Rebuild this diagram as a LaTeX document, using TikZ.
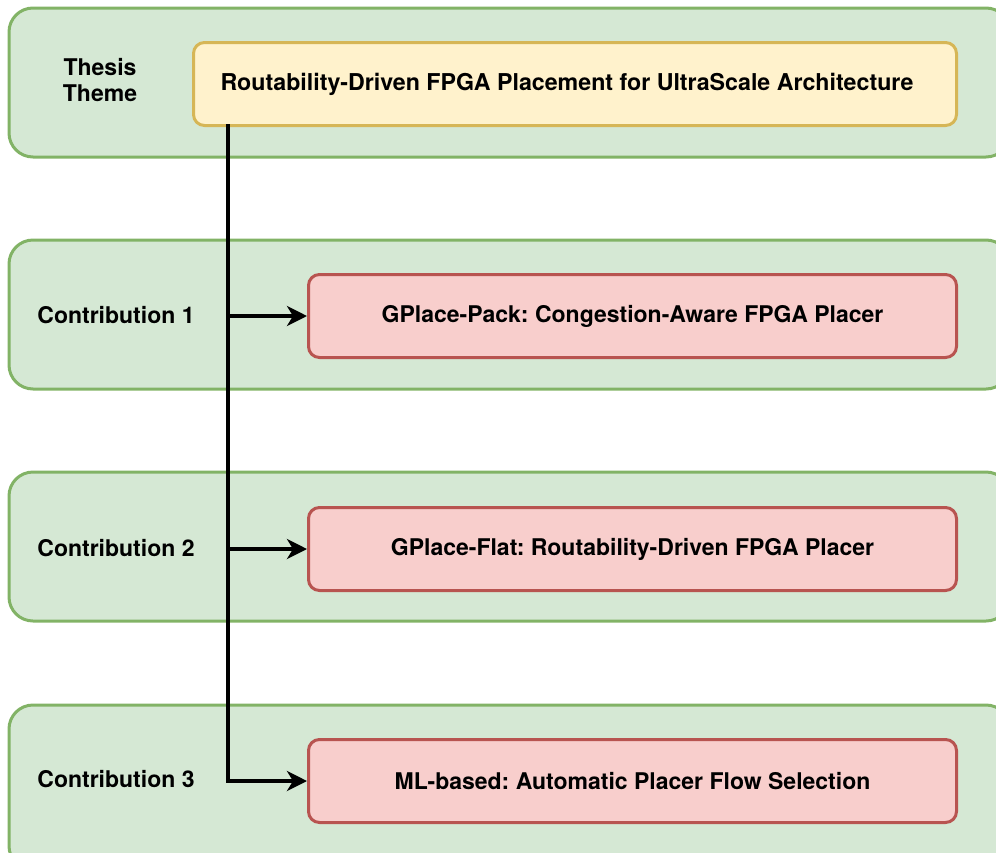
\documentclass[tikz,border=0pt]{standalone}
\usepackage{fontspec}
\setmainfont{TeX Gyre Heros}
\frenchspacing
\usetikzlibrary{arrows.meta}
\definecolor{gfill}{HTML}{D5E8D4}
\definecolor{gline}{HTML}{82B366}
\definecolor{yfill}{HTML}{FFF2CC}
\definecolor{yline}{HTML}{D6B656}
\definecolor{rfill}{HTML}{F8CECC}
\definecolor{rline}{HTML}{B85450}
\tikzset{
  lane/.style={draw=gline,fill=gfill,line width=3pt,rounded corners=24pt},
  theme/.style={draw=yline,fill=yfill,line width=3pt,rounded corners=11pt,font=\fontsize{23.2}{27}\selectfont\bfseries},
  contrib/.style={draw=rline,fill=rfill,line width=3pt,rounded corners=11pt,font=\fontsize{23}{27}\selectfont\bfseries},
  lbl/.style={font=\fontsize{23}{26}\selectfont\bfseries,align=center},
  conn/.style={line width=3.5pt,-{Stealth[length=20pt,width=20pt,inset=6pt]}},
}
\begin{document}
\begin{tikzpicture}[x=1pt,y=-1pt]
\useasboundingbox (0,0) rectangle (996,852);
\clip (0,0) rectangle (996,852);
% lanes
\draw[lane] (9,8) rectangle (1010,157);
\draw[lane] (9,240) rectangle (1010,389);
\draw[lane] (9,472) rectangle (1010,621);
\draw[lane] (9,705) rectangle (1010,870);
% labels
\node[lbl] (lt) at (100,80) {Thesis\\Theme};
\node[lbl] (l1) at (116,315) {Contribution 1};
\node[lbl] (l2) at (116,548) {Contribution 2};
\node[lbl] (l3) at (116,779) {Contribution 3};
% boxes
\node[theme,minimum width=763pt,minimum height=83pt,anchor=north west] (t) at (192,41) {\raisebox{2pt}{Routability-Driven FPGA Placement for UltraScale Architecture}\hspace*{16pt}};
\node[contrib,minimum width=648pt,minimum height=83pt,anchor=north west] (c1) at (307,273) {GPlace-Pack: Congestion-Aware FPGA Placer};
\node[contrib,minimum width=648pt,minimum height=83pt,anchor=north west] (c2) at (307,506) {GPlace-Flat: Routability-Driven FPGA Placer};
\node[contrib,minimum width=648pt,minimum height=83pt,anchor=north west] (c3) at (307,738) {ML-based: Automatic Placer Flow Selection};
% connectors
\coordinate (top) at (228,124);
\draw[line width=3.5pt] (top) -- (top |- c3.west);
\draw[conn] (top |- c1.west) -- (c1.west);
\draw[conn] (top |- c2.west) -- (c2.west);
\draw[conn,line join=miter] (top) -- (top |- c3.west) -- (c3.west);
\end{tikzpicture}
\end{document}
